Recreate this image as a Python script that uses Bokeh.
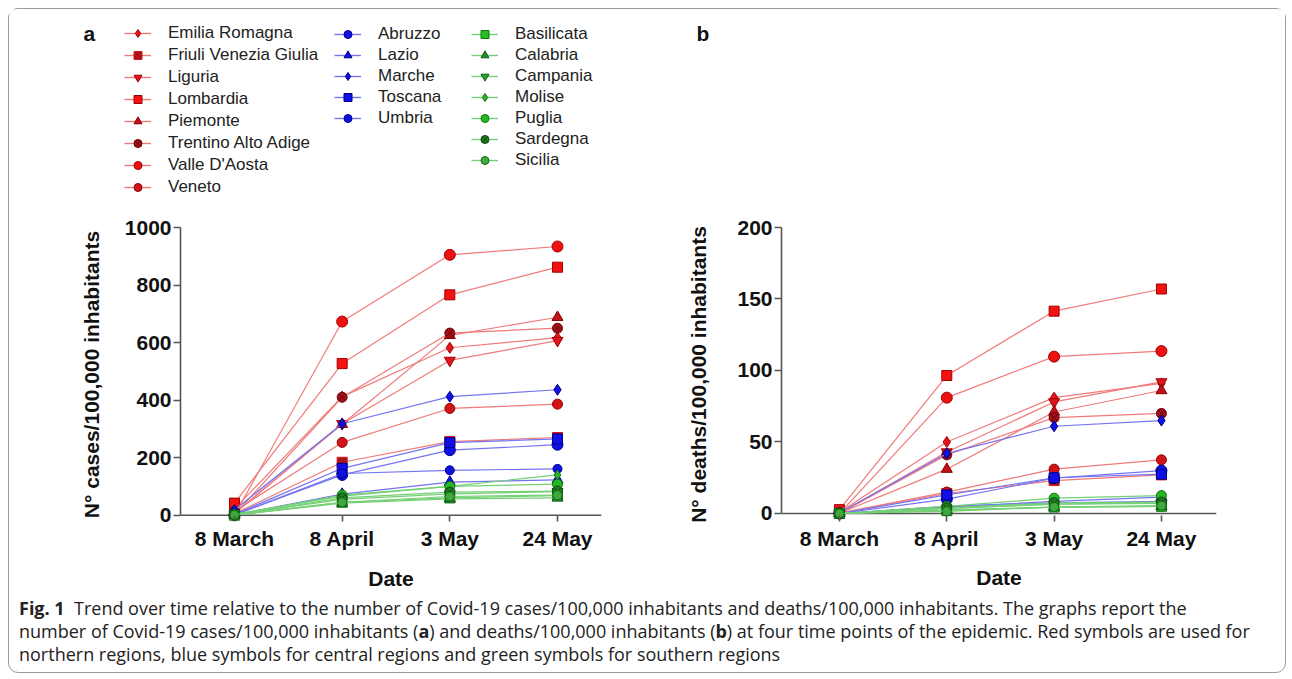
from bokeh.plotting import figure
from bokeh.models import Range1d, FixedTicker, Legend, LegendItem, Label, ColumnDataSource, Div, Span
from bokeh.layouts import column, row
from bokeh.embed import file_html
from bokeh.resources import INLINE

# ---------------- data ----------------
dates = ["8 March", "8 April", "3 May", "24 May"]
date_pos = [0, 1, 2, 3]

north = ["Emilia Romagna", "Friuli Venezia Giulia", "Liguria", "Lombardia",
         "Piemonte", "Trentino Alto Adige", "Valle D'Aosta", "Veneto"]
central = ["Abruzzo", "Lazio", "Marche", "Toscana", "Umbria"]
south = ["Basilicata", "Calabria", "Campania", "Molise", "Puglia", "Sardegna", "Sicilia"]

cases_emilia_romagna = [22, 412, 582, 617]
cases_friuli = [5, 184, 256, 270]
cases_liguria = [5, 318, 538, 607]
cases_lombardia = [42, 527, 766, 862]
cases_piemonte = [8, 316, 625, 688]
cases_trentino = [3, 410, 633, 650]
cases_valle_daosta = [0, 673, 905, 934]
cases_veneto = [14, 253, 371, 386]
cases_abruzzo = [1, 140, 226, 245]
cases_lazio = [1, 73, 115, 123]
cases_marche = [18, 318, 412, 436]
cases_toscana = [3, 163, 252, 265]
cases_umbria = [1, 145, 156, 161]
cases_basilicata = [0, 45, 60, 68]
cases_calabria = [0, 42, 57, 60]
cases_campania = [2, 55, 74, 82]
cases_molise = [4, 66, 100, 140]
cases_puglia = [1, 70, 100, 108]
cases_sardegna = [1, 60, 80, 84]
cases_sicilia = [1, 45, 65, 70]

deaths_emilia_romagna = [0.8, 50, 81, 91]
deaths_friuli = [0.2, 14, 23, 27]
deaths_liguria = [0.2, 43, 78, 92]
deaths_lombardia = [2.7, 96.5, 141.5, 157]
deaths_piemonte = [0.2, 31, 71, 86]
deaths_trentino = [0, 41, 67, 70]
deaths_valle_daosta = [0, 81, 109.7, 113.6]
deaths_veneto = [0.3, 15, 31, 37.5]
deaths_abruzzo = [0, 10, 24.7, 30]
deaths_lazio = [0, 4.5, 8.5, 11.5]
deaths_marche = [0.5, 42, 61, 65]
deaths_toscana = [0, 13, 25, 27.5]
deaths_umbria = [0, 5, 7.5, 8.5]
deaths_basilicata = [0, 2, 4.5, 5]
deaths_calabria = [0, 2.5, 4.5, 5]
deaths_campania = [0, 3.5, 6.5, 7]
deaths_molise = [0, 3.5, 6.5, 7.5]
deaths_puglia = [0, 5, 10.7, 12.5]
deaths_sardegna = [0, 4, 7.5, 8]
deaths_sicilia = [0, 1.5, 4.5, 5.5]

cases = {
    "Emilia Romagna": cases_emilia_romagna, "Friuli Venezia Giulia": cases_friuli,
    "Liguria": cases_liguria, "Lombardia": cases_lombardia, "Piemonte": cases_piemonte,
    "Trentino Alto Adige": cases_trentino, "Valle D'Aosta": cases_valle_daosta,
    "Veneto": cases_veneto, "Abruzzo": cases_abruzzo, "Lazio": cases_lazio,
    "Marche": cases_marche, "Toscana": cases_toscana, "Umbria": cases_umbria,
    "Basilicata": cases_basilicata, "Calabria": cases_calabria, "Campania": cases_campania,
    "Molise": cases_molise, "Puglia": cases_puglia, "Sardegna": cases_sardegna,
    "Sicilia": cases_sicilia,
}
deaths = {
    "Emilia Romagna": deaths_emilia_romagna, "Friuli Venezia Giulia": deaths_friuli,
    "Liguria": deaths_liguria, "Lombardia": deaths_lombardia, "Piemonte": deaths_piemonte,
    "Trentino Alto Adige": deaths_trentino, "Valle D'Aosta": deaths_valle_daosta,
    "Veneto": deaths_veneto, "Abruzzo": deaths_abruzzo, "Lazio": deaths_lazio,
    "Marche": deaths_marche, "Toscana": deaths_toscana, "Umbria": deaths_umbria,
    "Basilicata": deaths_basilicata, "Calabria": deaths_calabria, "Campania": deaths_campania,
    "Molise": deaths_molise, "Puglia": deaths_puglia, "Sardegna": deaths_sardegna,
    "Sicilia": deaths_sicilia,
}

# ---------------- styles ----------------
RED_LINE, BLUE_LINE, GREEN_LINE = "#f07a7a", "#7474f2", "#74d074"
style = {
    "Emilia Romagna": ("diamond", 11, "#e8141c", "#a00000", RED_LINE),
    "Friuli Venezia Giulia": ("square", 10, "#a8141c", "#d81414", RED_LINE),
    "Liguria": ("inverted_triangle", 11, "#e0141c", "#a00000", RED_LINE),
    "Lombardia": ("square", 10, "#f21212", "#a00000", RED_LINE),
    "Piemonte": ("triangle", 11, "#c0101a", "#8a0000", RED_LINE),
    "Trentino Alto Adige": ("circle_x", 10, "#a01018", "#6e0008", RED_LINE),
    "Valle D'Aosta": ("circle", 11, "#ee1111", "#a00000", RED_LINE),
    "Veneto": ("circle", 10, "#d01418", "#900000", RED_LINE),
    "Abruzzo": ("circle", 11, "#1010e6", "#00008a", BLUE_LINE),
    "Lazio": ("triangle", 11, "#1010e0", "#00008a", BLUE_LINE),
    "Marche": ("diamond", 11, "#1010e0", "#00008a", BLUE_LINE),
    "Toscana": ("square", 10, "#1010e6", "#00008a", BLUE_LINE),
    "Umbria": ("circle", 9, "#1010e0", "#00008a", BLUE_LINE),
    "Basilicata": ("square", 10, "#22c022", "#147014", GREEN_LINE),
    "Calabria": ("triangle", 11, "#229022", "#0f5a0f", GREEN_LINE),
    "Campania": ("inverted_triangle", 11, "#30a030", "#0f5a0f", GREEN_LINE),
    "Molise": ("diamond", 10, "#2cb02c", "#147014", GREEN_LINE),
    "Puglia": ("circle", 10, "#22b822", "#147014", GREEN_LINE),
    "Sardegna": ("circle_x", 10, "#207a20", "#0d4a0d", GREEN_LINE),
    "Sicilia": ("circle", 9, "#40a840", "#147014", GREEN_LINE),
}

FONT = "Liberation Sans"
AXIS_COLOR = "#555555"


def make_panel(values, y_end, y_start, y_ticks, y_label, frame_w, frame_h,
               x_start, x_end, b_left, b_top, b_right, b_bottom, title_standoff,
               x_label_standoff):
    p = figure(frame_width=frame_w, frame_height=frame_h,
               x_range=Range1d(x_start, x_end), y_range=Range1d(y_start, y_end),
               output_backend="svg", toolbar_location=None,
               min_border_left=b_left, min_border_top=b_top,
               min_border_right=b_right, min_border_bottom=b_bottom)
    p.grid.visible = False
    p.outline_line_color = None
    p.background_fill_color = "white"
    p.border_fill_color = "white"

    for name in north + central + south:
        marker, size, fill, edge, lcol = style[name]
        src = ColumnDataSource(dict(x=date_pos, y=values[name]))
        p.line("x", "y", source=src, line_color=lcol, line_width=1.2)
        p.scatter("x", "y", source=src, marker=marker, size=size,
                  fill_color=fill, line_color=edge, line_width=1)

    # x axis line drawn at y = 0
    p.add_layout(Span(location=0, dimension="width", line_color=AXIS_COLOR,
                      line_width=1.6, level="underlay"))

    p.xaxis.ticker = FixedTicker(ticks=date_pos)
    p.xaxis.major_label_overrides = {k: v for k, v in zip(date_pos, dates)}
    p.xaxis.axis_label = "Date"
    p.yaxis.ticker = FixedTicker(ticks=y_ticks)
    p.yaxis.bounds = (0, y_end)
    p.yaxis.axis_label = y_label
    for ax in (p.xaxis[0], p.yaxis[0]):
        ax.axis_line_color = AXIS_COLOR
        ax.axis_line_width = 1.6
        ax.major_tick_line_color = AXIS_COLOR
        ax.major_tick_line_width = 1.6
        ax.minor_tick_line_color = None
        ax.major_label_text_font = FONT
        ax.major_label_text_font_style = "bold"
        ax.major_label_text_font_size = "21px"
        ax.major_label_text_color = "#111111"
        ax.axis_label_text_font = FONT
        ax.axis_label_text_font_style = "bold"
        ax.axis_label_text_font_size = "21px"
        ax.axis_label_text_color = "#111111"
    p.xaxis.axis_line_color = None
    p.xaxis.major_tick_in = 6
    p.xaxis.major_tick_out = 0
    p.xaxis.major_label_standoff = 5
    p.xaxis.axis_label_standoff = x_label_standoff
    p.yaxis.major_tick_in = 0
    p.yaxis.major_tick_out = 7
    p.yaxis.major_label_standoff = 2
    p.yaxis.axis_label_standoff = title_standoff
    return p


# panel a (frame: page x 179-600, page y 226-520)
pa = make_panel(cases, 1000, -21.9, [0, 200, 400, 600, 800, 1000],
                "N° cases/100,000 inhabitants", 421, 294,
                -0.5015, 3.4087, 171, 28, 46, 70, 19, 14)
# panel b (frame: page x 780-1215, page y 224-518)
pb = make_panel(deaths, 200, -5.6, [0, 50, 100, 150, 200],
                "N° deaths/100,000 inhabitants", 435, 294,
                -0.540, 3.513, 134, 26, 69, 72, 24, 13)

# ---------------- legend strip (page y 8-198) ----------------
leg = figure(width=1276, height=190, x_range=Range1d(8, 1284), y_range=Range1d(198, 8),
             output_backend="svg", toolbar_location=None,
             min_border_left=0, min_border_right=0, min_border_top=0, min_border_bottom=0)
leg.axis.visible = False
leg.grid.visible = False
leg.outline_line_color = None
# the legend's series live on ranges that keep them out of view; only their keys show
leg.extra_x_ranges = {"keys": Range1d(50, 60)}
leg.extra_y_ranges = {"keys": Range1d(5000, 6000)}


def add_legend(names, loc, spacing):
    items = []
    for n in names:
        marker, size, fill, edge, lcol = style[n]
        src = ColumnDataSource(dict(x=date_pos, y=cases[n]))
        lr = leg.line("x", "y", source=src, line_color=lcol, line_width=1.4,
                      x_range_name="keys", y_range_name="keys")
        sr = leg.scatter("x", "y", source=src, marker=marker, size=size,
                         fill_color=fill, line_color=edge, line_width=1,
                         x_range_name="keys", y_range_name="keys")
        items.append(LegendItem(label=n, renderers=[lr, sr]))
    lg = Legend(items=items, location=loc, orientation="vertical",
                glyph_width=27, glyph_height=20, label_height=20,
                label_standoff=17, spacing=spacing, padding=0, margin=0,
                border_line_color=None, background_fill_alpha=0,
                label_text_font=FONT, label_text_font_size="17px",
                label_text_color="#222222", label_text_baseline="middle")
    leg.add_layout(lg)


add_legend(north, (115, 2), 2)
add_legend(central, (325, 71), 1)
add_legend(south, (462, 29), 1)

for lab, lx in (("a", 82), ("b", 695)):
    leg.add_layout(Label(x=lx, y=32, text=lab, text_font=FONT, text_font_style="bold",
                         text_font_size="21px", text_color="#111111",
                         text_baseline="middle"))

caption_html = (
    "<b>Fig. 1</b>&nbsp; Trend over time relative to the number of Covid-19 cases/100,000 "
    "inhabitants and deaths/100,000 inhabitants. The graphs report the<br>"
    "number of Covid-19 cases/100,000 inhabitants (<b>a</b>) and deaths/100,000 inhabitants "
    "(<b>b</b>) at four time points of the epidemic. Red symbols are used for<br>"
    "northern regions, blue symbols for central regions and green symbols for southern regions"
)
caption = Div(text=caption_html, width=1276, height=80, margin=(0, 0, 0, 0),
              styles={"font-family": "Open Sans", "font-size": "18px",
                      "line-height": "23px", "color": "#222222",
                      "padding-left": "10px", "padding-top": "5px",
                      "white-space": "nowrap"})

layout = column(leg, row(pa, pb), caption, margin=(8, 8, 8, 8), spacing=0,
                styles={"border": "1px solid #9a9a9a", "border-radius": "10px"})

open("out.html", "w").write(file_html(layout, INLINE))
